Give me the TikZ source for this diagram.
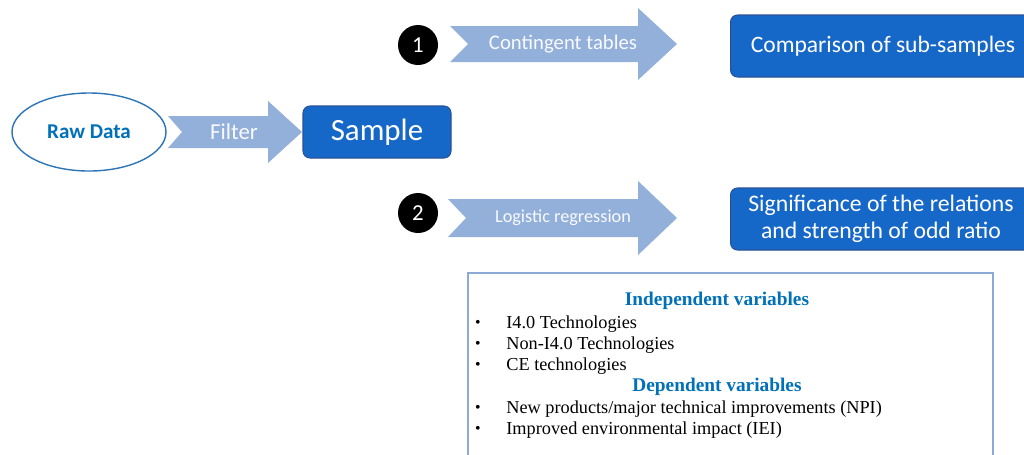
\documentclass[tikz,border=0pt]{standalone}
\usepackage{fontspec}
\setmainfont{Liberation Serif}
\newfontfamily\calfont{Carlito}
\usetikzlibrary{shapes.geometric}
\definecolor{arrowblue}{RGB}{147,176,218}
\definecolor{boxblue}{RGB}{22,104,200}
\definecolor{boxedge}{RGB}{40,80,150}
\definecolor{headblue}{RGB}{0,112,184}
\definecolor{ellblue}{RGB}{46,117,182}
\definecolor{frameblue}{RGB}{140,170,215}
\tikzset{
  flowarrow/.style={fill=arrowblue, draw=none},
  arrowtext/.style={text=white!94!arrowblue, font=\calfont, inner sep=0pt},
  bluebox/.style={fill=boxblue, draw=boxedge, line width=0.6pt, rounded corners=4pt},
  boxtext/.style={text=white, font=\calfont, align=center, inner sep=0pt},
  numcircle/.style={circle, fill=black, text=white, minimum size=40*0.02cm, inner sep=0pt, font=\calfont\fontsize{13}{15}\selectfont},
  heading/.style={text=headblue, font=\bfseries\fontsize{11}{13}\selectfont, inner sep=0pt},
  item/.style={anchor=west, font=\fontsize{10.4}{12}\selectfont, inner sep=0pt},
  bullet/.style={font=\fontsize{9}{12}\selectfont, inner sep=0pt}
}
\begin{document}
\begin{tikzpicture}[x=0.02cm, y=-0.02cm]
\useasboundingbox (0,0) rectangle (1024,454);
\clip (0,0) rectangle (1024,454);
% Raw data ellipse
\node[ellipse, draw=ellblue, line width=0.8pt, minimum width=154*0.02cm, minimum height=78*0.02cm, text=headblue, font=\calfont\bfseries\fontsize{12}{14}\selectfont] (raw) at (89,132) {Raw Data};
% Filter arrow
\fill[flowarrow] (168,116) -- (268,116) -- (268,101) -- (302,132) -- (268,163) -- (268,148) -- (168,148) -- (182,132) -- cycle;
\node[arrowtext, font=\calfont\fontsize{13}{15}\selectfont] (filter) at (234,132) {Filter};
% Sample box
\node[bluebox, minimum width=148*0.02cm, minimum height=52*0.02cm, text=white, font=\calfont\fontsize{17.6}{20}\selectfont] (sample) at (377,132) {Sample};
% Arrow 1
\node[numcircle] (c1) at (418,45) {1};
\fill[flowarrow] (450,26) -- (638,26) -- (638,8) -- (677,44) -- (638,80) -- (638,62) -- (450,62) -- (468,44) -- cycle;
\node[arrowtext, font=\calfont\fontsize{11.8}{14}\selectfont] (ct) at (563,44) {Contingent tables};
% Arrow 2
\node[numcircle] (c2) at (418,213) {2};
\fill[flowarrow] (448,199) -- (638,199) -- (638,181) -- (677,218) -- (638,255) -- (638,237) -- (448,237) -- (466,218) -- cycle;
\node[arrowtext, font=\calfont\fontsize{10.4}{12}\selectfont] (lr) at (563,218) {Logistic regression};
% Result boxes
\node[bluebox, minimum width=302*0.02cm, minimum height=62*0.02cm, anchor=west] (comp) at (730,46) {};
\node[boxtext, font=\calfont\fontsize{13.4}{15}\selectfont] (comptext) at (883,46) {Comparison of sub-samples};
\node[bluebox, minimum width=302*0.02cm, minimum height=62*0.02cm, anchor=west] (sig) at (730,219) {};
\node[boxtext, font=\calfont\fontsize{13.5}{15.6}\selectfont] (sigtext) at (881,219) {Significance of the relations\\and strength of odd ratio};
% Variables box
\draw[draw=frameblue, line width=0.8pt] (468,273) rectangle (993,470);
\node[heading] (h1) at (717,301) {Independent variables};
\node[bullet] (b1) at (478,324) {•};
\node[item] (i1) at (506,324) {I4.0 Technologies};
\node[bullet] (b2) at (478,345) {•};
\node[item] (i2) at (506,345) {Non-I4.0 Technologies};
\node[bullet] (b3) at (478,366) {•};
\node[item] (i3) at (506,366) {CE technologies};
\node[heading] (h2) at (717,387) {Dependent variables};
\node[bullet] (b4) at (478,409) {•};
\node[item] (i4) at (506,409) {New products/major technical improvements (NPI)};
\node[bullet] (b5) at (478,430) {•};
\node[item] (i5) at (506,430) {Improved environmental impact (IEI)};
\end{tikzpicture}
\end{document}
